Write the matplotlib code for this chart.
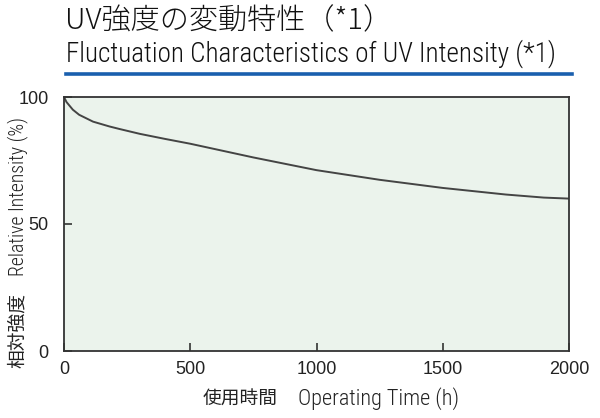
import matplotlib
matplotlib.use('Agg')
import matplotlib.pyplot as plt
import numpy as np

# operating time (h) and relative intensity (%)
hours = [0, 10, 35, 60, 115, 180, 220, 300, 400, 500, 750, 1000, 1250, 1500, 1750, 1900, 2000]
intensity = [100, 98.0, 95.0, 93.0, 90.3, 88.4, 87.4, 85.5, 83.5, 81.6, 76.2, 71.2, 67.4, 64.2, 61.6, 60.4, 60.0]

x_ticks = [0, 500, 1000, 1500, 2000]
y_ticks = [0, 50, 100]

title_jp = 'UV強度の変動特性（*1）'
title_en = 'Fluctuation Characteristics of UV Intensity (*1)'
xlabel_jp, xlabel_en = '使用時間', 'Operating Time (h)'
ylabel_jp, ylabel_en = '相対強度', 'Relative Intensity (%)'

narrow = ['Roboto Condensed', 'Noto Sans CJK JP', 'DejaVu Sans']
plain = ['Liberation Sans', 'DejaVu Sans']
jp = ['Noto Sans CJK JP', 'DejaVu Sans']

W, H = 600, 418
fig = plt.figure(figsize=(6, 4.18), dpi=100)
ax = fig.add_axes([64/W, 1-351/H, 505/W, 254/H])
ax.set_facecolor('#ebf3ec')

ax.plot(hours, intensity, color='#444444', linewidth=1.4)

ax.set_xlim(0, 2000)
ax.set_ylim(0, 100)
ax.set_xticks(x_ticks)
ax.set_yticks(y_ticks)
ax.tick_params(direction='in', length=6, width=1.2, color='#333333',
               labelsize=13, labelcolor='#222222')
ax.tick_params(axis='x', pad=7)
ax.tick_params(axis='y', pad=11)
for lab in ax.get_xticklabels() + ax.get_yticklabels():
    lab.set_family(plain)
for sp in ax.spines.values():
    sp.set_color('#333333')
    sp.set_linewidth(1.3)

# titles + blue rule
fig.text(65/W, 1-29/H, title_jp, family=jp, fontsize=21, weight='light',
         color='#111111', ha='left', va='baseline')
fig.text(66/W, 1-62/H, title_en, family=narrow, fontsize=19.5, weight='light',
         color='#111111', ha='left', va='baseline')
fig.add_artist(plt.Line2D([66/W, 572/W], [1-73.5/H, 1-73.5/H],
                          color='#1a5fae', linewidth=2.6, transform=fig.transFigure))

# axis labels, japanese and english parts
fig.text(240/W, 1-399/H, xlabel_jp, family=jp, fontsize=13.5,
         color='#222222', ha='center', va='center')
fig.text(378/W, 1-399/H, xlabel_en, family=narrow, fontsize=16, weight='light',
         color='#222222', ha='center', va='center')
fig.text(17.5/W, 1-331/H, ylabel_jp, family=jp, fontsize=13.5,
         color='#222222', ha='center', va='center', rotation=90)
fig.text(17.5/W, 1-196.5/H, ylabel_en, family=narrow, fontsize=14.2, weight='light',
         color='#222222', ha='center', va='center', rotation=90)

fig.savefig('out.png', dpi=100, facecolor='white')
